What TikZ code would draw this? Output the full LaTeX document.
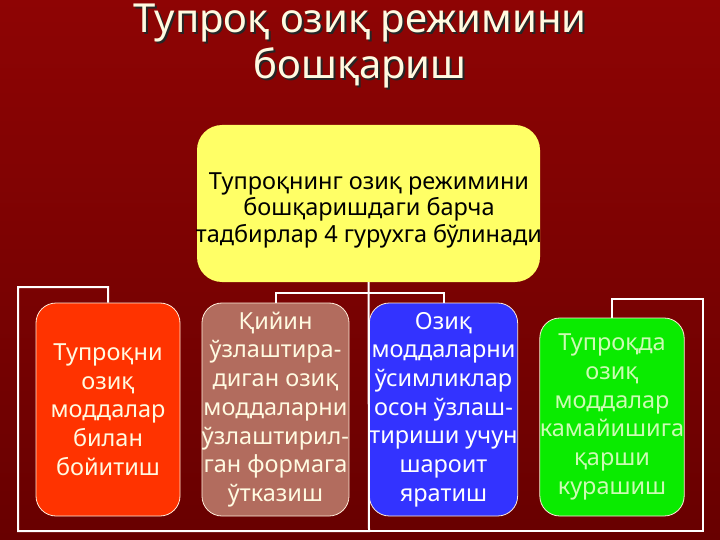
\documentclass[tikz,border=0pt]{standalone}
\usepackage{fontspec}
\setmainfont{Noto Sans}
\definecolor{bgtop}{RGB}{142,4,4}
\definecolor{bgbot}{RGB}{104,0,0}
\definecolor{ylw}{RGB}{255,255,102}
\definecolor{redbox}{RGB}{255,51,0}
\definecolor{brownbox}{RGB}{178,108,94}
\definecolor{bluebox}{RGB}{51,51,255}
\definecolor{greenbox}{RGB}{10,235,0}
\definecolor{cream}{RGB}{255,250,225}
\begin{document}
\begin{tikzpicture}[x=1pt,y=-1pt,
  box/.style={draw=white!85!orange, line width=0.8pt, rounded corners=20pt,
    minimum width=#1, inner sep=0pt, align=center,
    font=\fontsize{23.5}{28.7}\selectfont},
  conn/.style={draw=white, line width=2pt},
  titletext/.style={font=\fontsize{40}{46}\selectfont, align=center}]
\useasboundingbox (0,0) rectangle (720,540);
\shade[top color=bgtop, bottom color=bgbot] (0,0) rectangle (720,540);

% title
\node[titletext, text=black!85] (titlesh) at (362,48) {Тупроқ озиқ режимини\\бошқариш};
\node[titletext, text=cream] (title) at (360,46) {Тупроқ озиқ режимини\\бошқариш};

% top box
\node[draw=none, fill=ylw, rounded corners=25pt, minimum width=343pt, minimum height=157pt] (top) at (368.5,203.5) {};
\node[align=center, font=\fontsize{23.5}{26.5}\selectfont, text=black] (toptext) at (369,210) {Тупроқнинг озиқ режимини\\бошқаришдаги барча\\тадбирлар 4 гурухга бўлинади};

% four boxes
\node[box=144pt, minimum height=213pt, fill=redbox, text=cream] (b1) at (108,409.5)
  {Тупроқни\\озиқ\\моддалар\\билан\\бойитиш};
\node[box=145pt, minimum height=213pt, fill=brownbox, text=cream] (b2) at (275.5,409.5)
  {Қийин\\ўзлаштира-\\диган озиқ\\моддаларни\\ўзлаштирил-\\ган формага\\ўтказиш};
\node[box=143pt, minimum height=213pt, fill=bluebox, text=white] (b3) at (443.5,409.5)
  {Озиқ\\моддаларни\\ўсимликлар\\осон ўзлаш-\\тириши учун\\шароит\\яратиш};
\node[box=144pt, minimum height=198pt, fill=greenbox, text=cream!80!green] (b4) at (612,417)
  {Тупроқда\\озиқ\\моддалар\\камайишига\\қарши\\курашиш};

% connector corners
\coordinate (bot) at (369,531);
\coordinate (botL) at (18,531);
\coordinate (topL) at (18,287);
\coordinate (botR) at (703,531);
\coordinate (topR) at (703,299);
\coordinate (mid) at (369,293);

\draw[conn] (top.south) -- (bot) -- (botL) -- (topL) -| (b1.north);
\draw[conn] (top.south |- mid) -| (b2.north);
\draw[conn] (top.south |- mid) -| (b3.north);
\draw[conn] (bot) -- (botR) -- (topR) -| (b4.north);
\end{tikzpicture}
\end{document}
